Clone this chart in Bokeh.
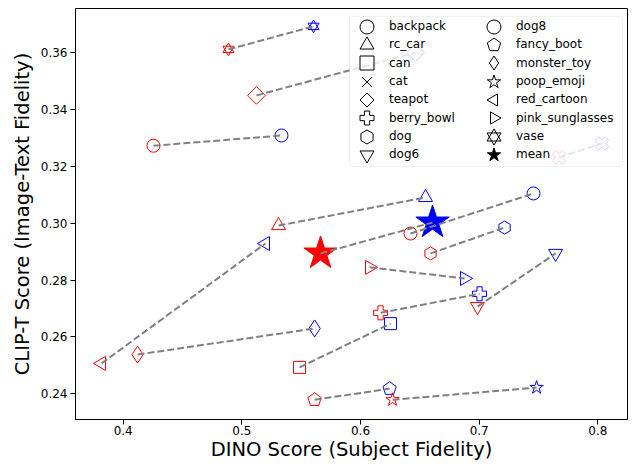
import math
from bokeh.plotting import figure
from bokeh.models import (Range1d, FixedTicker, NumeralTickFormatter, Legend,
                          LegendItem, BoxAnnotation, ColumnDataSource)
from bokeh.embed import file_html
from bokeh.resources import INLINE

# ---------------- data ----------------
subjects = ["backpack", "rc_car", "can", "cat", "teapot", "berry_bowl", "dog", "dog6",
            "dog8", "fancy_boot", "monster_toy", "poop_emoji", "red_cartoon",
            "pink_sunglasses", "vase"]
base_dino = [0.4255, 0.5309, 0.5486, 0.7673, 0.5123, 0.6169, 0.6590, 0.6986,
             0.6421, 0.5613, 0.4121, 0.6270, 0.3817, 0.6076, 0.4887]
base_clip = [0.3273, 0.2992, 0.2493, 0.3232, 0.3450, 0.2685, 0.2894, 0.2707,
             0.2964, 0.2379, 0.2538, 0.2379, 0.2507, 0.2845, 0.3612]
ours_dino = [0.5334, 0.6548, 0.6253, 0.8035, 0.6464, 0.7003, 0.7214, 0.7644,
             0.7458, 0.6245, 0.5613, 0.7484, 0.5199, 0.6877, 0.5604]
ours_clip = [0.3309, 0.3091, 0.2647, 0.3281, 0.3601, 0.2752, 0.2985, 0.2894,
             0.3105, 0.2418, 0.2630, 0.2422, 0.2929, 0.2806, 0.3693]
mean_dino = [0.5663, 0.6607]   # [baseline, ours]
mean_clip = [0.2894, 0.3003]

x_ticks = [0.4, 0.5, 0.6, 0.7, 0.8]
y_ticks = [0.24, 0.26, 0.28, 0.30, 0.32, 0.34, 0.36]
x_label = "DINO Score (Subject Fidelity)"
y_label = "CLIP-T Score (Image-Text Fidelity)"

# ---------------- styles ----------------
RED, BLUE = "#ff0000", "#0000ff"
FONT = "DejaVu Sans"
pi = math.pi
style = {
    "backpack": ("circle", 13, 0),
    "rc_car": ("triangle", 14, 0),
    "can": ("square", 12, 0),
    "cat": ("plus", 14, pi / 4),
    "teapot": ("square", 12.5, pi / 4),
    "berry_bowl": ("plus", 14, 0),
    "dog": ("hex", 13, pi / 2),
    "dog6": ("inverted_triangle", 14, 0),
    "dog8": ("circle", 13, 0),
    "monster_toy": ("diamond", 17, 0),
    "poop_emoji": ("star", 14, 0),
    "red_cartoon": ("triangle", 14, pi / 2),
    "pink_sunglasses": ("triangle", 14, -pi / 2),
}
legend_marker = {
    "backpack": "circle", "rc_car": "triangle", "can": "square", "cat": "x",
    "teapot": "diamond", "berry_bowl": "plus", "dog": "hex", "dog6": "inverted_triangle",
    "dog8": "circle", "monster_toy": "diamond", "poop_emoji": "star",
    "red_cartoon": "triangle", "pink_sunglasses": "triangle",
}
# legend shapes drawn as regular polygons (sides, angle, radius)
legend_ngon = {"teapot": (4, 0, 8), "red_cartoon": (3, pi / 2, 7.5),
               "pink_sunglasses": (3, -pi / 2, 7.5), "fancy_boot": (5, 0, 7),
               "dog": (6, 0, 7)}

p = figure(width=635, height=464, output_backend="svg", toolbar_location=None,
           x_range=Range1d(0.3598, 0.8250), y_range=Range1d(0.23096, 0.37559),
           min_border_left=75, min_border_right=8, min_border_top=8, min_border_bottom=45)
p.xgrid.visible = False
p.ygrid.visible = False
p.outline_line_color = "black"
p.outline_line_width = 1
p.background_fill_color = "white"
p.border_fill_color = "white"

for ax in (p.xaxis[0], p.yaxis[0]):
    ax.axis_line_color = "black"
    ax.major_tick_line_color = "black"
    ax.minor_tick_line_color = None
    ax.major_tick_out = 5
    ax.major_tick_in = 0
    ax.major_label_text_font = FONT
    ax.major_label_text_font_size = "12px"
    ax.major_label_text_color = "black"
    ax.axis_label_text_font = FONT
    ax.axis_label_text_font_size = "19.5px"
    ax.axis_label_text_font_style = "normal"
    ax.axis_label_text_color = "black"
p.xaxis.axis_label_standoff = 0
p.yaxis.axis_label_standoff = 4
p.xaxis.major_label_standoff = 1
p.yaxis.major_label_standoff = 3
p.xaxis.ticker = FixedTicker(ticks=x_ticks)
p.yaxis.ticker = FixedTicker(ticks=y_ticks)
p.xaxis.formatter = NumeralTickFormatter(format="0.0")
p.yaxis.formatter = NumeralTickFormatter(format="0.00")
p.xaxis.axis_label = x_label
p.yaxis.axis_label = y_label

try:
    from bokeh.models import Ngon  # noqa
    HAS_NGON = True
except Exception:
    HAS_NGON = False

legend_renderers = {}
for i, name in enumerate(subjects):
    for xs, ys, col in ((base_dino, base_clip, RED), (ours_dino, ours_clip, BLUE)):
        src = ColumnDataSource(dict(x=[xs[i]], y=[ys[i]]))
        if name == "vase":
            p.scatter("x", "y", source=src, marker="triangle", size=11,
                      fill_color=None, line_color=col, line_width=1)
            p.scatter("x", "y", source=src, marker="inverted_triangle", size=11,
                      fill_color=None, line_color=col, line_width=1)
        elif name == "fancy_boot" and HAS_NGON:
            p.ngon("x", "y", source=src, radius=7, radius_units="screen", n=5,
                   angle=0, fill_color=None, line_color=col, line_width=1)
        elif name == "fancy_boot":
            p.scatter("x", "y", source=src, marker="hex", size=13, angle=pi / 2,
                      fill_color=None, line_color=col, line_width=1)
        else:
            mk, sz, ang = style[name]
            p.scatter("x", "y", source=src, marker=mk, size=sz, angle=ang,
                      fill_color=None, line_color=col, line_width=1)

    # hidden black renderers used only to draw the legend symbols
    hx, hy = [base_dino[i]], [base_clip[i]]
    if name == "vase":
        rs = [p.scatter(x=hx, y=hy, marker="triangle", size=14, fill_color=None, line_color="black"),
              p.scatter(x=hx, y=hy, marker="inverted_triangle", size=14, fill_color=None,
                        line_color="black")]
    elif name in legend_ngon and HAS_NGON:
        n_sides, ang, rad = legend_ngon[name]
        rs = [p.ngon(x=hx, y=hy, radius=rad, radius_units="screen", n=n_sides, angle=ang,
                     fill_color=None, line_color="black")]
    else:
        rs = [p.scatter(x=hx, y=hy, marker=legend_marker.get(name, "hex"), size=14,
                        fill_color=None, line_color="black")]
    for r in rs:
        r.visible = False
    legend_renderers[name] = rs

# mean stars
p.scatter(x=mean_dino[:1], y=mean_clip[:1], marker="star", size=35, color=RED)
p.scatter(x=mean_dino[1:], y=mean_clip[1:], marker="star", size=35, color=BLUE)
rm = p.scatter(x=mean_dino[:1], y=mean_clip[:1], marker="star", size=14, color="black")
rm.visible = False
legend_renderers["mean"] = [rm]

# dashed connectors (drawn over markers)
p.segment(x0=base_dino + mean_dino[:1], y0=base_clip + mean_clip[:1],
          x1=ours_dino + mean_dino[1:], y1=ours_clip + mean_clip[1:],
          line_color="#808080", line_width=2, line_dash="7 3")

# legend frame (screen units, relative to the plot frame's bottom-left)
box_kw = dict(left=274, right=547, top=403, bottom=253,
              left_units="screen", right_units="screen", top_units="screen", bottom_units="screen",
              fill_color="white", fill_alpha=0.8, line_color="#cccccc", line_width=1)
try:
    box = BoxAnnotation(border_radius=3, **box_kw)
except Exception:
    box = BoxAnnotation(**box_kw)
p.add_layout(box)

# two columns of 8 entries, one legend per entry so the rows can be tight
order = subjects + ["mean"]
ROW0, PITCH = 375.5, 18.35
for k, name in enumerate(order):
    col, row = divmod(k, 8)
    lg = Legend(items=[LegendItem(label=name, renderers=legend_renderers[name])],
                location=(274 + 127 * col, ROW0 - PITCH * row), orientation="vertical",
                glyph_width=35, glyph_height=35, padding=0, margin=0, spacing=0,
                label_standoff=5, label_text_font=FONT, label_text_font_size="12px",
                label_text_color="black", background_fill_alpha=0, border_line_color=None)
    p.add_layout(lg)

open("out.html", "w").write(file_html(p, INLINE))
